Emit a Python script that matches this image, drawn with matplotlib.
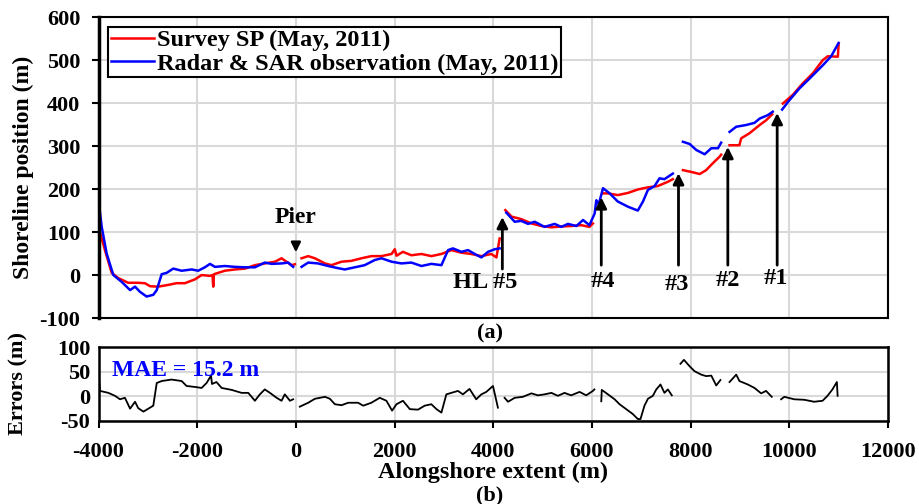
import numpy as np
import matplotlib
matplotlib.use("Agg")
import matplotlib.pyplot as plt

nan = np.nan

# survey shoreline (red), nan = gap
survey_x = [-4000, -3870, -3733, -3600, -3400, -3200, -3060, -2955, -2790, -2590, -2420, -2250,
            -2045, -1910, -1740, -1690, -1675, -1660, -1440, -1235, -1030, -830, -630, -425,
            -290, -190, -90, -20, nan,
            115, 250, 385, 590, 720, 925, 1125, 1330, 1530, 1735, 1940, 2005, 2040, 2170,
            2340, 2545, 2745, 2950, 3150, 3355, 3555, 3760, 3960, 4065, 4130, nan,
            4245, 4370, 4570, 4775, 4975, 5180, 5380, 5580, 5785, 5950, 6020, nan,
            6225, 6325, 6525, 6730, 6930, 7135, 7335, 7540, 7640, nan,
            7845, 8010, 8185, 8315, 8450, 8585, 8620, nan,
            8790, 8990, 9025, 9195, 9400, 9530, 9655, nan,
            9870, 10070, 10275, 10475, 10680, 10780, 10985, 11000]
survey_y = [112, 58, 5, -7, -18, -18, -19, -26, -27, -23, -19, -19,
            -10, 0, -2, 0, -27, 2, 10, 13, 15, 23, 27, 31,
            39, 31, 23, 25, nan,
            39, 44, 39, 27, 23, 31, 33, 39, 44, 44, 49, 60, 45, 54,
            46, 49, 44, 49, 58, 52, 49, 44, 49, 41, 85, nan,
            151, 136, 130, 120, 114, 111, 113, 114, 116, 112, 120, nan,
            190, 190, 186, 191, 199, 204, 207, 217, 223, nan,
            244, 240, 235, 244, 260, 275, 280, nan,
            302, 302, 318, 330, 349, 360, 374, nan,
            399, 419, 446, 469, 500, 509, 508, 537]

# radar & SAR shoreline (blue)
radar_x = [-4000, -3935, -3835, -3700, -3530, -3360, -3260, -3160, -3025, -2890, -2820, -2720,
           -2620, -2485, -2315, -2110, -1980, -1845, -1740, -1640, -1440, -1235, -1030, -830,
           -630, -490, -290, -155, -55, nan,
           115, 250, 450, 655, 855, 990, 1195, 1395, 1600, 1735, 1940, 2140, 2340, 2545,
           2745, 2950, 3085, 3185, 3355, 3490, 3625, 3760, 3895, 4030, 4130, nan,
           4265, 4435, 4570, 4705, 4840, 5040, 5245, 5380, 5515, 5685, 5820, 5950, 6055,
           6090, 6140, 6225, 6360, 6525, 6730, 6930, 7035, 7135, 7270, 7370, 7470, 7640, nan,
           7845, 7980, 8115, 8285, 8420, 8555, 8620, nan,
           8790, 8925, 9125, 9295, 9400, 9565, 9665, nan,
           9855, 10005, 10205, 10410, 10680, 10850, 11000]
radar_y = [174, 112, 50, 0, -16, -35, -27, -39, -50, -46, -35, 2,
           5, 15, 10, 13, 10, 18, 26, 19, 21, 19, 18, 18,
           29, 26, 27, 29, 19, nan,
           19, 29, 27, 21, 16, 13, 18, 23, 35, 39, 31, 27, 29, 21,
           26, 23, 58, 62, 54, 58, 49, 41, 54, 60, 62, nan,
           145, 124, 126, 119, 124, 112, 119, 112, 119, 114, 128, 116, 143,
           174, 165, 202, 190, 171, 159, 150, 171, 198, 207, 225, 223, 236, nan,
           310, 305, 291, 281, 295, 295, 308, nan,
           333, 345, 349, 354, 364, 372, 380, nan,
           385, 407, 434, 457, 488, 509, 540]

# errors (black)
err_x = [-4000, -3970, -3800, -3665, -3565, -3465, -3360, -3260, -3195, -3090, -2955, -2890,
         -2820, -2720, -2520, -2315, -2215, -2045, -1910, -1810, -1720, -1700, -1610, -1505,
         -1300, -1100, -965, -830, -730, -630, -525, -390, -290, -225, -120, -55, nan,
         80, 250, 385, 590, 690, 790, 925, 1060, 1260, 1365, 1530, 1700, 1835, 1950, 2040,
         2170, 2310, 2475, 2610, 2745, 2850, 2950, 3050, 3150, 3285, 3385, 3520, 3655, 3760,
         3860, 3995, 4095, nan,
         4230, 4300, 4435, 4600, 4775, 4905, 5040, 5180, 5310, 5445, 5580, 5750, 5885, 6020,
         6050, nan,
         6190, 6200, 6325, 6460, 6560, 6695, 6830, 6930, 6985, 7065, 7135, 7235, 7305, 7390,
         7470, 7540, 7620, nan,
         7795, 7865, 7980, 8080, 8215, 8315, 8420, 8520, 8605, nan,
         8790, 8925, 8990, 9160, 9295, 9430, 9530, 9645, nan,
         9835, 9900, 10100, 10305, 10505, 10675, 10775, 10875, 10965, 10980]
err_y = [50, 11, 7, 1, -6, -3, -25, -11, -24, -31, -23, -19,
         27, 31, 34, 31, 21, 19, 17, 27, 42, 25, 29, 17,
         13, 7, 7, -9, 4, 14, 7, -3, -9, 4, -9, -6, nan,
         -21, -13, -5, -1, -5, -16, -18, -13, -13, -19, -13, -3, -9, -29, -16,
         -9, -26, -27, -19, -16, -26, -33, 4, 7, 11, 4, 15, -6, 4,
         9, 21, -23, nan,
         -3, -11, -3, -1, 6, 2, 4, 7, 1, 7, 2, 9, 2, 11,
         14, nan,
         -10, 13, 4, -6, -16, -26, -36, -46, -46, -19, -5, 1, 14, 24,
         7, 14, 2, nan,
         66, 74, 61, 51, 44, 41, 42, 22, 33, nan,
         29, 44, 31, 24, 17, 6, 11, -1, nan,
         -6, -1, -6, -7, -11, -9, 1, 14, 29, 1]

# groins / features: arrow x, tip, base, label, label position
feat_x = [4185, 6190, 7755, 8755, 9755]
feat_tip = [135, 181, 237, 298, 377]
feat_base = [14, 23, 23, 23, 23]
feat_lab = ["HL #5", "#4", "#3", "#2", "#1"]
feat_lab_x = [3840, 6230, 7730, 8750, 9730]
feat_lab_y = [-18, -15, -22, -12, -8]

plt.rcParams['font.family'] = ['Liberation Serif', 'DejaVu Serif']
plt.rcParams['font.weight'] = 'bold'
plt.rcParams['axes.unicode_minus'] = False

fig = plt.figure(figsize=(9.19, 5.04), dpi=100)
ax1 = fig.add_axes([0.1072, 0.369, 0.859, 0.597])
ax2 = fig.add_axes([0.1072, 0.1647, 0.859, 0.1468])

grid_c = '#d9d9d9'

ax1.plot(survey_x, survey_y, color='#ff0000', lw=1.8, label='Survey SP (May, 2011)')
ax1.plot(radar_x, radar_y, color='#0000ff', lw=1.8, label='Radar & SAR observation (May, 2011)')
ax1.set_xlim(-4000, 12000)
ax1.set_ylim(-100, 600)
ax1.set_xticks(np.arange(-4000, 12001, 2000))
ax1.set_yticks(np.arange(-100, 601, 100))
ax1.tick_params(axis='x', length=0, labelbottom=False)
ax1.tick_params(axis='y', direction='out', length=5, width=1.5, labelsize=16, pad=8)
ax1.grid(True, color=grid_c, lw=1.5)
ax1.set_axisbelow(True)
ax1.set_ylabel('Shoreline position (m)', fontsize=17, fontweight='bold')
ax1.yaxis.set_label_coords(-0.082, 0.5)
for s in ax1.spines.values():
    s.set_linewidth(1.5)
ax1.spines['left'].set_linewidth(2.5)

ax1.annotate('Pier', xy=(0, 53), xytext=(0, 135), ha='center', va='center',
             fontsize=17, fontweight='bold',
             arrowprops=dict(arrowstyle='-|>', color='black', lw=1.8,
                             mutation_scale=14, shrinkA=9, shrinkB=0))
for fx, tip, base, lab, lx, ly in zip(feat_x, feat_tip, feat_base, feat_lab, feat_lab_x, feat_lab_y):
    ax1.annotate('', xy=(fx, tip), xytext=(fx, base),
                 arrowprops=dict(arrowstyle='-|>', color='black', lw=2,
                                 mutation_scale=16, shrinkA=0, shrinkB=0))
    ax1.text(lx, ly, lab, ha='center', va='center', fontsize=17.5, fontweight='bold')

leg = ax1.legend(loc='upper left', bbox_to_anchor=(0.0, 1.0), fontsize=17.5, frameon=True,
                 fancybox=False, edgecolor='black', handlelength=1.8, handletextpad=0.1,
                 borderpad=0.1, labelspacing=0.05, borderaxespad=0.4)
leg.get_frame().set_linewidth(1.5)
leg.get_frame().set_alpha(1)

ax2.plot(err_x, err_y, color='black', lw=1.3)
ax2.set_xlim(-4000, 12000)
ax2.set_ylim(-50, 100)
ax2.set_xticks(np.arange(-4000, 12001, 2000))
ax2.set_yticks([-50, 0, 50, 100])
ax2.tick_params(axis='x', direction='out', length=5, width=1.5, labelsize=16, pad=10)
ax2.tick_params(axis='y', length=0, labelsize=16, pad=6)
ax2.grid(True, color=grid_c, lw=1.5)
ax2.set_axisbelow(True)
for s in ax2.spines.values():
    s.set_linewidth(1.8)
ax2.set_ylabel('Errors (m)', fontsize=16, fontweight='bold')
ax2.yaxis.set_label_coords(-0.089, 0.5)
ax2.set_xlabel('Alongshore extent (m)', fontsize=17.5, fontweight='bold', labelpad=0)
ax2.text(-3730, 52, 'MAE = 15.2 m', color='#0000ff', fontsize=17, fontweight='bold',
         ha='left', va='center')

fig.text(0.533, 0.339, '(a)', ha='center', va='center', fontsize=16, fontweight='bold')
fig.text(0.533, 0.017, '(b)', ha='center', va='center', fontsize=16, fontweight='bold')

fig.savefig('out.png', dpi=100)
